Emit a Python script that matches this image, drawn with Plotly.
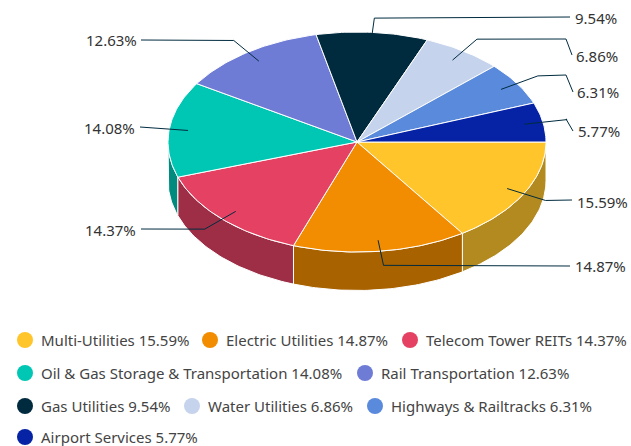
import math
import plotly.graph_objects as go

# ---- data ----
categories = ["Multi-Utilities", "Electric Utilities", "Telecom Tower REITs",
              "Oil & Gas Storage & Transportation", "Rail Transportation",
              "Gas Utilities", "Water Utilities", "Highways & Railtracks",
              "Airport Services"]
values = [15.59, 14.87, 14.37, 14.08, 12.63, 9.54, 6.86, 6.31, 5.77]

# ---- styles ----
top_colors = ["#FFC52B", "#F28C00", "#E54263", "#00C7B4", "#6F7CD6",
              "#002B3F", "#C6D3ED", "#5A8ADC", "#0623A6"]
side_colors = ["#B38A1F", "#A96200", "#9E2E45", "#008B7E", "#4E5796",
               "#001E2C", "#8A94A6", "#3F619A", "#041974"]

# ---- layout ----
CX, CY, RX, RY, DEPTH = 357, 142, 189, 110, 38.5
R_IN, R_OUT = 0.90, 1.13
LABEL_FONT = dict(family="Noto Sans", size=15, color="#333333")
LEGEND_FONT = dict(family="Noto Sans", size=15, color="#444444")
# end of each leader (x, y) and its optional last bend, in slice order
leader_ends = [[(572, 200)], [(570, 266)], [(141, 229)], [(140, 127)], [(141, 40)],
               [(570, 17)], [(566, 39), (572, 55)], [(566, 75), (573, 92)], [(566, 119), (573, 131)]]
label_pos = [(575, 202, "left"), (573, 266, "left"), (138, 230, "right"), (137, 128, "right"),
             (139, 40, "right"), (573, 18, "left"), (574, 56, "left"), (575, 92, "left"), (576, 131, "left")]
legend_pos = [(25, 340), (210, 340), (410, 340), (25, 373), (365, 373),
              (25, 406), (192, 406), (375, 406), (25, 437)]


def pt(deg, r=1.0, dy=0.0):
    a = math.radians(deg)
    return CX + RX * r * math.cos(a), CY + RY * r * math.sin(a) + dy


def arc(a0, a1):
    n = max(2, int(abs(a1 - a0)) + 2)
    return [a0 + (a1 - a0) * i / (n - 1) for i in range(n)]


total = sum(values)
spans, acc = [], 0.0
for v in values:
    spans.append((acc * 3.6 * 100 / total, (acc + v) * 3.6 * 100 / total))
    acc += v

fig = go.Figure()

# side walls, drawn from the outer edges towards the front
order = sorted(range(len(values)), key=lambda i: -abs(90 - sum(spans[i]) / 2))
for i in order:
    a0, a1 = max(spans[i][0], 0), min(spans[i][1], 180)
    if a1 <= a0:
        continue
    angs = arc(a0, a1)
    top = [pt(a) for a in angs]
    bot = [pt(a, dy=DEPTH) for a in reversed(angs)]
    poly = top + bot + [top[0]]
    fig.add_trace(go.Scatter(x=[p[0] for p in poly], y=[p[1] for p in poly], mode="lines",
                             fill="toself", fillcolor=side_colors[i],
                             line=dict(color="#FFFFFF", width=1), hoverinfo="skip"))

# top faces
for i, (a0, a1) in enumerate(spans):
    poly = [(CX, CY)] + [pt(a) for a in arc(a0, a1)] + [(CX, CY)]
    fig.add_trace(go.Scatter(x=[p[0] for p in poly], y=[p[1] for p in poly], mode="lines",
                             fill="toself", fillcolor=top_colors[i],
                             line=dict(color="#FFFFFF", width=1),
                             name=categories[i], hoverinfo="name"))

annotations = []
# leaders and value labels
for i, (a0, a1) in enumerate(spans):
    mid = (a0 + a1) / 2
    path = [pt(mid, R_IN), pt(mid, R_OUT)] + leader_ends[i]
    fig.add_trace(go.Scatter(x=[p[0] for p in path], y=[p[1] for p in path], mode="lines",
                             line=dict(color="#002B3F", width=1), hoverinfo="skip"))
    lx, ly, side = label_pos[i]
    annotations.append(dict(x=lx, y=ly, text=f"{values[i]:.2f}%", showarrow=False,
                            xanchor=side, yanchor="middle", font=LABEL_FONT))

# legend
for i, (lx, ly) in enumerate(legend_pos):
    fig.add_trace(go.Scatter(x=[lx], y=[ly], mode="markers", hoverinfo="skip",
                             marker=dict(size=16, color=top_colors[i], line=dict(width=0))))
    annotations.append(dict(x=lx + 14, y=ly, text=f"{categories[i]} {values[i]:.2f}%",
                            showarrow=False, xanchor="left", yanchor="middle", font=LEGEND_FONT))

fig.update_layout(
    width=631, height=446, autosize=False,
    margin=dict(l=0, r=0, t=0, b=0),
    paper_bgcolor="#FFFFFF", plot_bgcolor="#FFFFFF",
    showlegend=False, annotations=annotations,
    xaxis=dict(range=[0, 631], visible=False, fixedrange=True),
    yaxis=dict(range=[446, 0], visible=False, fixedrange=True),
)
fig.write_html("out.html", config=dict(displayModeBar=False),
               post_script="document.body.style.margin='0';document.body.style.overflow='hidden';")
